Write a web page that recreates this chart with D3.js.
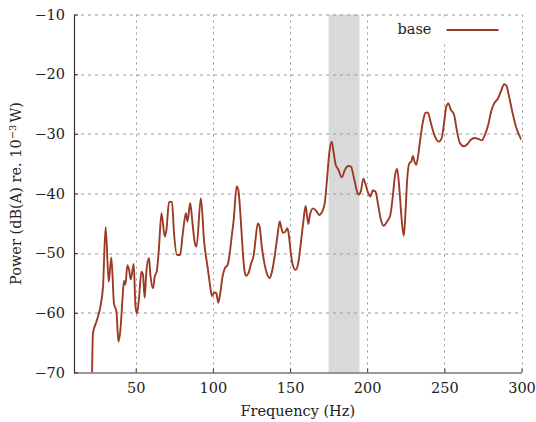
<!DOCTYPE html>
<html>
<head>
<meta charset="utf-8">
<script src="https://cdn.jsdelivr.net/npm/d3@7/dist/d3.min.js"></script>
<style>
  html, body { margin: 0; padding: 0; background: #fff; }
  svg { display: block; font-family: "DejaVu Serif", "Liberation Serif", serif; }
</style>
</head>
<body>
<svg id="chart" width="536" height="422"></svg>
<script>
// Spectrum of the "base" configuration: A-weighted sound power vs frequency
const freq = [
  21.7, 22.3, 24.5, 27.3, 28.8, 30.5, 32.5, 34.2, 35.9, 37.5, 38.8, 40.1, 41.4, 42.4, 43.3,
  44.6, 45.7, 46.8, 48.7, 49.8, 50.8, 52.1, 53.7, 54.7, 55.8, 56.9, 58.6, 59.5, 61.2, 62.3,
  63.6, 64.9, 66.7, 68.8, 69.9, 71.6, 73.5, 74.8, 76.8, 78.8, 80.3, 82.5, 83.5, 85.3, 86.8,
  88.3, 89.4, 92.2, 94.4, 96.5, 98.3, 99.4, 100.9, 102.2, 103.5, 104.8, 106.3, 107.8, 109.5,
  110.6, 112.2, 113.5, 115.4, 116.5, 117.8, 119.3, 120.4, 121.5, 123.0, 124.8, 126.5, 127.6,
  129.1, 130.2, 131.7, 133.4, 135.4, 136.8, 138.3, 140.0, 141.8, 143.3, 144.4, 145.4, 147.0,
  148.3, 149.2, 150.5, 152.0, 153.6, 155.3, 157.0, 158.5, 160.1, 161.8, 162.9, 165.0, 167.2,
  168.9, 170.9, 172.6, 174.1, 175.4, 177.0, 178.0, 179.6, 181.3, 183.5, 185.6, 187.8, 189.5,
  191.0, 192.6, 194.3, 195.8, 197.5, 199.1, 200.6, 202.1, 203.6, 205.4, 207.1, 208.6, 210.7,
  212.9, 215.0, 216.6, 217.9, 219.4, 220.9, 222.2, 223.7, 224.8, 225.9, 227.4, 228.5, 229.6,
  230.7, 231.8, 233.1, 234.6, 236.1, 237.8, 239.3, 241.1, 242.8, 244.8, 246.5, 248.3, 249.8,
  251.3, 252.6, 254.1, 256.3, 258.0, 260.2, 262.8, 265.0, 267.1, 269.7, 272.5, 274.3, 276.2,
  278.4, 280.6, 282.3, 284.9, 286.6, 288.8, 290.3, 292.0, 294.2, 296.4, 298.5, 300.0
];
const power = [
  -70.0, -63.4, -61.5, -58.7, -55.6, -45.6, -54.8, -50.7, -58.4, -59.8, -64.8, -62.8, -57.8, -54.6, -55.3,
  -52.0, -52.8, -54.4, -51.8, -58.7, -60.1, -57.6, -53.1, -53.6, -57.5, -53.1, -50.8, -53.6, -55.9, -53.9,
  -53.1, -49.7, -43.3, -47.2, -46.1, -41.4, -41.4, -46.6, -50.3, -50.3, -47.2, -43.3, -44.7, -41.6, -45.0,
  -48.3, -48.9, -40.8, -48.3, -52.2, -55.6, -57.2, -56.6, -56.7, -58.3, -56.7, -53.9, -52.5, -52.0,
  -50.6, -47.2, -44.4, -38.8, -39.4, -43.3, -49.4, -52.8, -53.8, -53.4, -51.7, -50.3, -47.8,
  -45.0, -45.5, -48.9, -51.7, -53.7, -54.2, -53.1, -50.6, -47.2, -44.7, -45.8, -46.6, -46.4,
  -45.8, -46.9, -50.0, -52.2, -52.8, -51.7, -48.3, -45.0, -42.1, -45.1, -43.6, -42.5, -43.0,
  -43.6, -43.0, -41.4, -37.2, -33.3, -31.3, -32.7, -35.2, -36.0, -37.3, -36.0, -35.4, -35.5,
  -36.9, -38.8, -40.2, -39.7, -37.5, -38.6, -39.9, -40.5, -39.5, -39.7, -41.9, -44.1, -45.4,
  -44.7, -43.6, -40.5, -37.2, -35.9, -39.4, -43.9, -47.1, -43.3, -37.7, -34.9, -34.7, -33.7,
  -34.7, -35.2, -33.5, -30.5, -28.0, -26.5, -26.4, -28.0, -29.6, -30.9, -31.3, -30.7, -28.2,
  -25.4, -24.9, -25.9, -26.8, -29.3, -31.6, -32.1, -31.7, -31.0, -30.7, -30.9, -31.1, -30.2,
  -28.5, -26.0, -24.9, -24.0, -22.9, -21.7, -22.0, -23.8, -26.5, -28.8, -30.2, -31.0
];
const seriesName = "base";
const band = [175, 195];              // highlighted frequency range (Hz)
const xTicks = [50, 100, 150, 200, 250, 300];
const yTicks = [-70, -60, -50, -40, -30, -20, -10];
const xDomain = [10, 300];
const yDomain = [-70, -10];

const W = 536, H = 422;
const margin = { top: 14.5, right: 14.5, bottom: 49.5, left: 74 };
const iw = W - margin.left - margin.right;
const ih = H - margin.top - margin.bottom;
const fontSize = "14.5px";

const svg = d3.select("#chart");
const g = svg.append("g").attr("transform", `translate(${margin.left},${margin.top})`);

const x = d3.scaleLinear().domain(xDomain).range([0, iw]);
const y = d3.scaleLinear().domain(yDomain).range([ih, 0]);

g.append("defs").append("clipPath").attr("id", "plot-clip")
  .append("rect").attr("width", iw).attr("height", ih);

// shaded band
g.append("rect")
  .attr("x", x(band[0])).attr("y", 0)
  .attr("width", x(band[1]) - x(band[0])).attr("height", ih)
  .attr("fill", "#d9d9d9");

// grid
const grid = g.append("g").attr("stroke", "#999").attr("stroke-width", 1).attr("fill", "none");
grid.selectAll("line.v").data(xTicks).join("line")
  .attr("class", "v")
  .attr("x1", d => Math.round(x(d)) + 0.5).attr("x2", d => Math.round(x(d)) + 0.5)
  .attr("y1", 0).attr("y2", ih)
  .attr("stroke-dasharray", "2,4");
grid.selectAll("line.h").data(yTicks.filter(d => d !== yDomain[0])).join("line")
  .attr("class", "h")
  .attr("x1", 0).attr("x2", iw)
  .attr("y1", d => Math.round(y(d)) + 0.5).attr("y2", d => Math.round(y(d)) + 0.5)
  .attr("stroke-dasharray", "3,4");

// axes
const xAxis = d3.axisBottom(x).tickValues(xTicks).tickSizeInner(-4).tickSizeOuter(0).tickPadding(10)
  .tickFormat(d3.format("d"));
const yAxis = d3.axisLeft(y).tickValues(yTicks).tickSizeInner(-4).tickSizeOuter(0).tickPadding(9)
  .tickFormat(d => d3.format("d")(d).replace("-", "\u2212"));

const gx = g.append("g").attr("transform", `translate(0,${ih})`).call(xAxis);
const gy = g.append("g").call(yAxis);
[gx, gy].forEach(a => {
  a.select(".domain").attr("stroke", "#333").attr("stroke-width", 1.2);
  a.selectAll(".tick line").attr("stroke", "#333");
  a.selectAll(".tick text").attr("fill", "#222").style("font-size", fontSize)
    .style("font-family", "'DejaVu Serif', serif");
});

// spectrum line
const pts = freq.map((f, i) => [f, power[i]]);
const line = d3.line().x(d => x(d[0])).y(d => y(d[1])).curve(d3.curveMonotoneX);
g.append("path")
  .datum(pts)
  .attr("clip-path", "url(#plot-clip)")
  .attr("fill", "none")
  .attr("stroke", "#9c3b25")
  .attr("stroke-width", 1.9)
  .attr("stroke-linejoin", "round")
  .attr("d", line);

// legend
const leg = g.append("g").attr("transform", `translate(${iw - 134},${3})`);
leg.append("rect").attr("width", 120).attr("height", 24).attr("fill", "#fff");
leg.append("text").attr("x", 10).attr("y", 16)
  .style("font-size", fontSize).attr("fill", "#222").text(seriesName);
leg.append("line").attr("x1", 59).attr("x2", 111).attr("y1", 12.5).attr("y2", 12.5)
  .attr("stroke", "#9c3b25").attr("stroke-width", 1.9);

// axis titles
svg.append("text")
  .attr("x", margin.left + iw / 2).attr("y", 416)
  .attr("text-anchor", "middle").style("font-size", fontSize).attr("fill", "#222")
  .text("Frequency (Hz)");

const yt = svg.append("text")
  .attr("transform", `translate(21,${margin.top + ih / 2}) rotate(-90)`)
  .attr("text-anchor", "middle").style("font-size", fontSize).attr("fill", "#222");
yt.append("tspan").text("Power (dB(A) re. 10");
yt.append("tspan").attr("dy", -5.5).style("font-size", "10px").text("\u22123");
yt.append("tspan").attr("dy", 5.5).attr("dx", 2).text("W)");
</script>
</body>
</html>
